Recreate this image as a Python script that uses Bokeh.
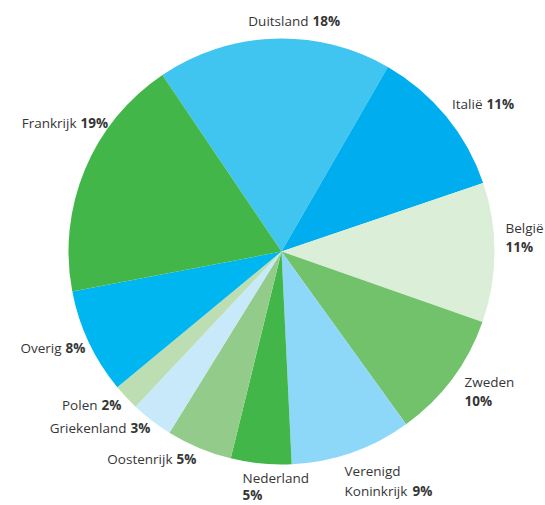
import numpy as np
from bokeh.plotting import figure
from bokeh.models import Range1d, ColumnDataSource
from bokeh.embed import file_html
from bokeh.resources import INLINE
from bokeh.core.properties import value

# ---- data ----
countries = ["Duitsland", "Italië", "België", "Zweden", "Verenigd Koninkrijk",
             "Nederland", "Oostenrijk", "Griekenland", "Polen", "Overig", "Frankrijk"]
shares = [17.8, 11.5, 10.6, 9.7, 9.2, 4.6, 5.0, 3.2, 2.0, 8.0, 18.6]
pct_labels = ["18%", "11%", "11%", "10%", "9%", "5%", "5%", "3%", "2%", "8%", "19%"]

# ---- style ----
colors = ["#3fc5f0", "#00aeef", "#dbeed8", "#71c26a", "#8dd8f8",
          "#42b649", "#93cc8a", "#c7e9f9", "#bcdeb2", "#00b6f0", "#42b649"]
FONT = "Open Sans"
FS = "13.5px"
TXT = "#363636"

# pixel layout (image coords, origin top-left)
W, H = 545, 505
CX, CY, R = 281, 251, 213
START_CW = 326.0  # degrees clockwise from 12 o'clock where first slice starts

# label layout: mode, x, y, line gap (image pixel coords)
label_layout = {
    "Duitsland": ("inline", 310, 20, 0),
    "Italië": ("inline", 484, 103, 0),
    "België": ("stack", 505, 227, 19),
    "Zweden": ("stack", 464, 381, 19),
    "Verenigd Koninkrijk": ("wrap", 344, 470, 20),
    "Nederland": ("stack", 242, 477, 17),
    "Oostenrijk": ("inline", 174, 458, 0),
    "Griekenland": ("inline", 128, 427, 0),
    "Polen": ("inline", 99, 404, 0),
    "Overig": ("inline", 63, 347, 0),
    "Frankrijk": ("inline", 78, 122, 0),
}


def yd(y):
    return H - y


p = figure(width=W, height=H, output_backend="svg", toolbar_location=None,
           x_range=Range1d(0, W), y_range=Range1d(0, H),
           x_axis_location=None, y_axis_location=None, min_border=0,
           background_fill_color="white", border_fill_color="white")
p.grid.visible = False
p.outline_line_color = None

vals = np.array(shares, dtype=float)
frac = vals / vals.sum()
cw_start = START_CW + np.concatenate([[0], np.cumsum(frac)[:-1]]) * 360
start = np.deg2rad(90 - cw_start)
end = np.deg2rad(90 - (cw_start + frac * 360))

src = ColumnDataSource(dict(start=start, end=end, color=colors, name=countries))
p.wedge(x=CX, y=yd(CY), radius=R, start_angle="start", end_angle="end",
        direction="clock", fill_color="color", line_color=None, source=src)

# labels
n_txt, n_x, n_y, n_al = [], [], [], []
b_txt, b_x, b_y, b_al = [], [], [], []
for c, pct in zip(countries, pct_labels):
    mode, x, y, gap = label_layout[c]
    if mode == "inline":
        n_txt.append(c); n_x.append(x - 2); n_y.append(yd(y)); n_al.append("right")
        b_txt.append(pct); b_x.append(x + 2); b_y.append(yd(y)); b_al.append("left")
    elif mode == "stack":
        n_txt.append(c); n_x.append(x); n_y.append(yd(y)); n_al.append("left")
        b_txt.append(pct); b_x.append(x); b_y.append(yd(y + gap)); b_al.append("left")
    else:  # wrap: first word on line 1, rest + pct on line 2
        w1, w2 = c.split(" ", 1)
        n_txt.append(w1); n_x.append(x); n_y.append(yd(y)); n_al.append("left")
        n_txt.append(w2); n_x.append(x); n_y.append(yd(y + gap)); n_al.append("left")
        b_txt.append(pct); b_x.append(x + 68); b_y.append(yd(y + gap)); b_al.append("left")

p.text(x=n_x, y=n_y, text=n_txt, text_align=n_al, text_baseline="middle",
       text_font=value(FONT), text_font_size=FS, text_color=TXT)
p.text(x=b_x, y=b_y, text=b_txt, text_align=b_al, text_baseline="middle",
       text_font=value(FONT), text_font_size=FS, text_font_style="bold", text_color=TXT)

open("out.html", "w").write(file_html(p, INLINE))
